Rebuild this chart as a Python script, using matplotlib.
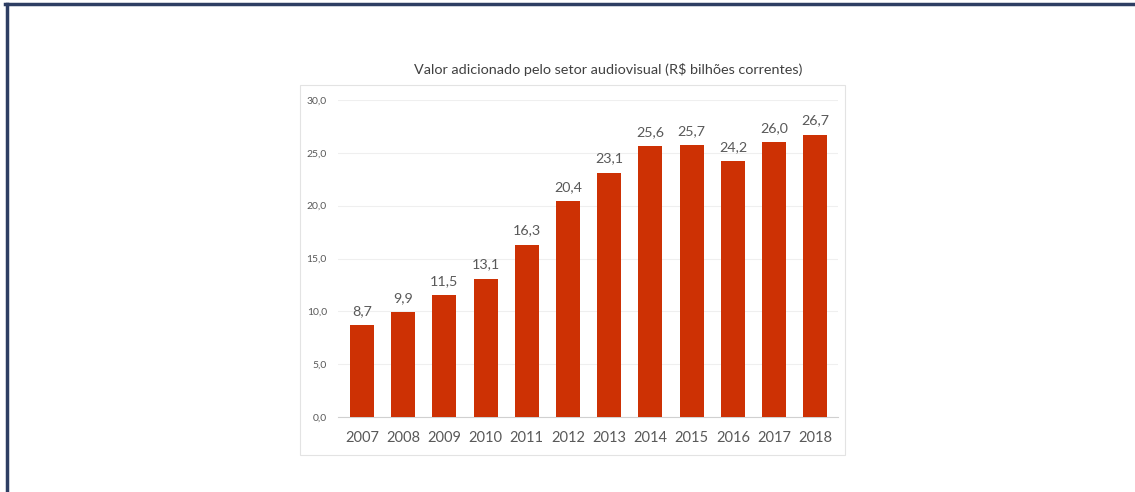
import matplotlib.pyplot as plt
from matplotlib.lines import Line2D
from matplotlib.patches import Rectangle

years = ["2007", "2008", "2009", "2010", "2011", "2012",
         "2013", "2014", "2015", "2016", "2017", "2018"]
values = [8.7, 9.9, 11.5, 13.1, 16.3, 20.4, 23.1, 25.6, 25.7, 24.2, 26.0, 26.7]
yticks = [0, 5, 10, 15, 20, 25, 30]

TITLE = "Valor adicionado pelo setor audiovisual (R\\$ bilhões correntes)"
BAR_COLOR = "#CD3104"
TEXT_COLOR = "#595959"

plt.rcParams["font.family"] = ["Lato", "DejaVu Sans"]

W, H = 1135, 492
fig = plt.figure(figsize=(W / 100, H / 100), dpi=100)
fig.patch.set_facecolor("white")

# outer frame (top and left navy edges)
fig.add_artist(Line2D([5 / W, 1.0], [1 - 4 / H, 1 - 4 / H], color="#2E3E63", lw=2.5,
                      transform=fig.transFigure))
fig.add_artist(Line2D([6.5 / W, 6.5 / W], [0, 1 - 4 / H], color="#2E3E63", lw=2.5,
                      transform=fig.transFigure))

# light chart box
fig.add_artist(Rectangle((300 / W, 1 - 455 / H), 545 / W, 370 / H, fill=False,
                         edgecolor="#E3E3E3", lw=0.8, transform=fig.transFigure))

ax = fig.add_axes([338 / W, 1 - 417 / H, 500 / W, 317 / H])
x = range(len(years))
ax.bar(x, values, width=0.58, color=BAR_COLOR, zorder=3)

for xi, v in zip(x, values):
    ax.annotate(f"{v:.1f}".replace(".", ","), (xi, v), xytext=(0, 6),
                textcoords="offset points", ha="center", va="bottom",
                fontsize=10.3, color=TEXT_COLOR)

ax.set_xlim(-0.58, 11.55)
ax.set_ylim(0, 30)
ax.set_xticks(list(x))
ax.set_xticklabels(years, fontsize=10.5, color=TEXT_COLOR)
ax.set_yticks(yticks)
ax.set_yticklabels([f"{t:.1f}".replace(".", ",") for t in yticks], fontsize=7.5,
                   color=TEXT_COLOR)
ax.tick_params(axis="both", length=0)
ax.tick_params(axis="y", pad=8)
ax.tick_params(axis="x", pad=10)
ax.grid(axis="y", color="#EFEFEF", lw=0.8, zorder=0)
for side in ("top", "right", "left"):
    ax.spines[side].set_visible(False)
ax.spines["bottom"].set_color("#D0D0D0")

fig.text(608 / W, 1 - 70 / H, TITLE, ha="center", va="center", fontsize=10.4,
         color="#404040")

fig.savefig("out.png", dpi=100)
